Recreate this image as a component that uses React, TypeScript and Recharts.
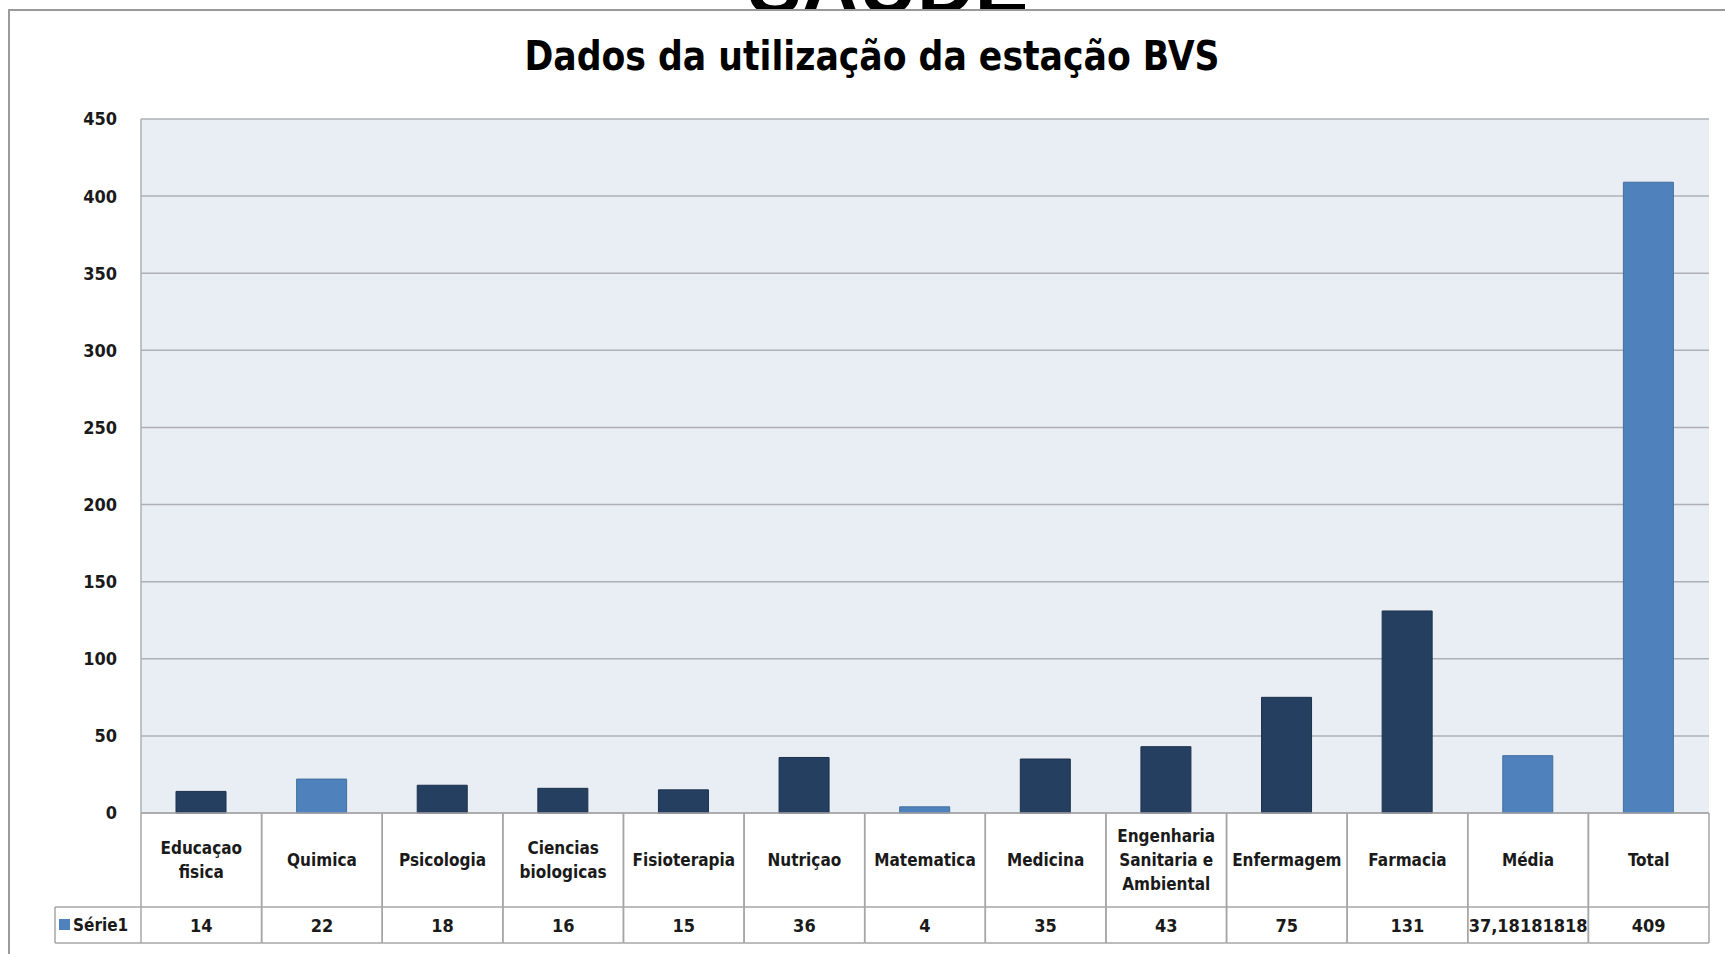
import { BarChart, Bar, Cell, XAxis, YAxis, CartesianGrid } from 'recharts';

// Utilização da estação BVS por curso
const categories = [
  'Educaçao fisica',
  'Quimica',
  'Psicologia',
  'Ciencias biologicas',
  'Fisioterapia',
  'Nutriçao',
  'Matematica',
  'Medicina',
  'Engenharia Sanitaria e Ambiental',
  'Enfermagem',
  'Farmacia',
  'Média',
  'Total',
];

const serie1 = [14, 22, 18, 16, 15, 36, 4, 35, 43, 75, 131, 37.18181818, 409];

// how each category label is broken into lines in the table
const categoryLines = [
  ['Educaçao', 'fisica'],
  ['Quimica'],
  ['Psicologia'],
  ['Ciencias', 'biologicas'],
  ['Fisioterapia'],
  ['Nutriçao'],
  ['Matematica'],
  ['Medicina'],
  ['Engenharia', 'Sanitaria e', 'Ambiental'],
  ['Enfermagem'],
  ['Farmacia'],
  ['Média'],
  ['Total'],
];

const yTicks = [0, 50, 100, 150, 200, 250, 300, 350, 400, 450];

const seriesName = 'Série1';
const title = 'Dados da utilização da estação BVS';

const data = categories.map((name, i) => ({ name, value: serie1[i] }));

const LIGHT = new Set(['Quimica', 'Matematica', 'Média', 'Total']);
const DARK_BLUE = '#243F60';
const MID_BLUE = '#4F81BD';
const GRID = '#AEB0B4';
const TABLE_LINE = '#A6A6A6';
const FONT = "'Liberation Sans Narrow', 'DejaVu Sans Condensed', 'Liberation Sans', sans-serif";

const fmt = (v: number) => (Number.isInteger(v) ? String(v) : v.toFixed(8).replace('.', ','));

const CAT_ROW = 94;
const VAL_ROW = 36;

const CategoryTick = (props: any) => {
  const { x, y, payload, index } = props;
  const half = payload?.offset ?? 60;
  const lines = categoryLines[index] ?? [String(payload.value)];
  const lh = 24;
  const startY = y + CAT_ROW / 2 - ((lines.length - 1) * lh) / 2;
  return (
    <g>
      <line x1={x - half} y1={y} x2={x - half} y2={y + CAT_ROW} stroke={TABLE_LINE} strokeWidth={1.5} />
      <line x1={x + half} y1={y} x2={x + half} y2={y + CAT_ROW} stroke={TABLE_LINE} strokeWidth={1.5} />
      <line x1={x - half} y1={y + CAT_ROW} x2={x + half} y2={y + CAT_ROW} stroke={TABLE_LINE} strokeWidth={1.5} />
      {lines.map((l, i) => (
        <text
          key={i}
          x={x}
          y={startY + i * lh}
          textAnchor="middle"
          dominantBaseline="central"
          fontFamily={FONT}
          fontSize={17}
          fontWeight="bold"
          fill="#1a1a1a"
        >
          {l}
        </text>
      ))}
    </g>
  );
};

const ValueTick = (props: any) => {
  const { x, y, payload, index } = props;
  const half = payload?.offset ?? 60;
  const v = serie1[index];
  const keyW = 86;
  return (
    <g>
      {index === 0 && (
        <g>
          <line x1={x - half - keyW} y1={y} x2={x - half} y2={y} stroke={TABLE_LINE} strokeWidth={1.5} />
          <line x1={x - half - keyW} y1={y + VAL_ROW} x2={x - half} y2={y + VAL_ROW} stroke={TABLE_LINE} strokeWidth={1.5} />
          <line x1={x - half - keyW} y1={y} x2={x - half - keyW} y2={y + VAL_ROW} stroke={TABLE_LINE} strokeWidth={1.5} />
          <rect x={x - half - keyW + 4} y={y + VAL_ROW / 2 - 6} width={11} height={11} fill={MID_BLUE} />
          <text
            x={x - half - keyW + 18}
            y={y + VAL_ROW / 2}
            dominantBaseline="central"
            fontFamily={FONT}
            fontSize={17}
            fontWeight="bold"
            fill="#1a1a1a"
          >
            {seriesName}
          </text>
        </g>
      )}
      <line x1={x - half} y1={y} x2={x - half} y2={y + VAL_ROW} stroke={TABLE_LINE} strokeWidth={1.5} />
      <line x1={x + half} y1={y} x2={x + half} y2={y + VAL_ROW} stroke={TABLE_LINE} strokeWidth={1.5} />
      <line x1={x - half} y1={y + VAL_ROW} x2={x + half} y2={y + VAL_ROW} stroke={TABLE_LINE} strokeWidth={1.5} />
      <text
        x={x}
        y={y + VAL_ROW / 2}
        textAnchor="middle"
        dominantBaseline="central"
        fontFamily={FONT}
        fontSize={18}
        fontWeight="bold"
        fill="#1a1a1a"
      >
        {fmt(v)}
      </text>
    </g>
  );
};

export default function App() {
  return (
    <div style={{ position: 'absolute', left: 0, top: 0, width: 1725, height: 954, overflow: 'hidden', background: '#fff' }}>
      {/* slide heading, mostly hidden behind the chart */}
      <svg width={1725} height={30} style={{ position: 'absolute', left: 0, top: 0 }}>
        <text x={888} y={13} textAnchor="middle" fontFamily="'Liberation Sans', sans-serif" fontWeight="bold" fontSize={80} fill="#000">
          SAÚDE
        </text>
      </svg>
      <div
        style={{
          position: 'absolute',
          left: 8,
          top: 9,
          width: 1760,
          height: 980,
          borderLeft: '2px solid #9A9A9A',
          borderTop: '2px solid #9A9A9A',
          background: '#fff',
        }}
      />
      <svg width={1725} height={90} style={{ position: 'absolute', left: 0, top: 0 }}>
        <text
          x={872}
          y={70}
          textAnchor="middle"
          fontFamily={FONT}
          fontWeight="bold"
          fontSize={40}
          fill="#000"
          textLength={695}
          lengthAdjust="spacingAndGlyphs"
        >
          {title}
        </text>
      </svg>
      <div style={{ position: 'absolute', left: 9, top: 10 }}>
        <BarChart
          width={1716}
          height={944}
          data={data}
          margin={{ top: 109, right: 16, left: 0, bottom: 11 }}
          barSize={50}
        >
          <CartesianGrid vertical={false} fill="#E9EDF4" stroke={GRID} strokeWidth={1.5} />
          <YAxis
            domain={[0, 450]}
            ticks={yTicks}
            width={132}
            tickSize={0}
            tickMargin={24}
            tickLine={false}
            axisLine={{ stroke: GRID, strokeWidth: 1.5 }}
            tick={{ fontFamily: FONT, fontSize: 18, fontWeight: 'bold', fill: '#1a1a1a' }}
          />
          <XAxis
            dataKey="name"
            height={CAT_ROW}
            tickSize={0}
            tickMargin={0}
            tickLine={false}
            interval={0}
            axisLine={{ stroke: TABLE_LINE, strokeWidth: 1.5 }}
            tick={<CategoryTick />}
          />
          <XAxis
            xAxisId="v"
            dataKey="name"
            height={VAL_ROW}
            tickSize={0}
            tickMargin={0}
            tickLine={false}
            interval={0}
            axisLine={false}
            tick={<ValueTick />}
          />
          <Bar dataKey="value" isAnimationActive={false}>
            {data.map((d) => (
              <Cell
                key={d.name}
                fill={LIGHT.has(d.name) ? MID_BLUE : DARK_BLUE}
                stroke={LIGHT.has(d.name) ? '#41709F' : '#1C314B'}
                strokeWidth={1}
              />
            ))}
          </Bar>
        </BarChart>
      </div>
    </div>
  );
}
